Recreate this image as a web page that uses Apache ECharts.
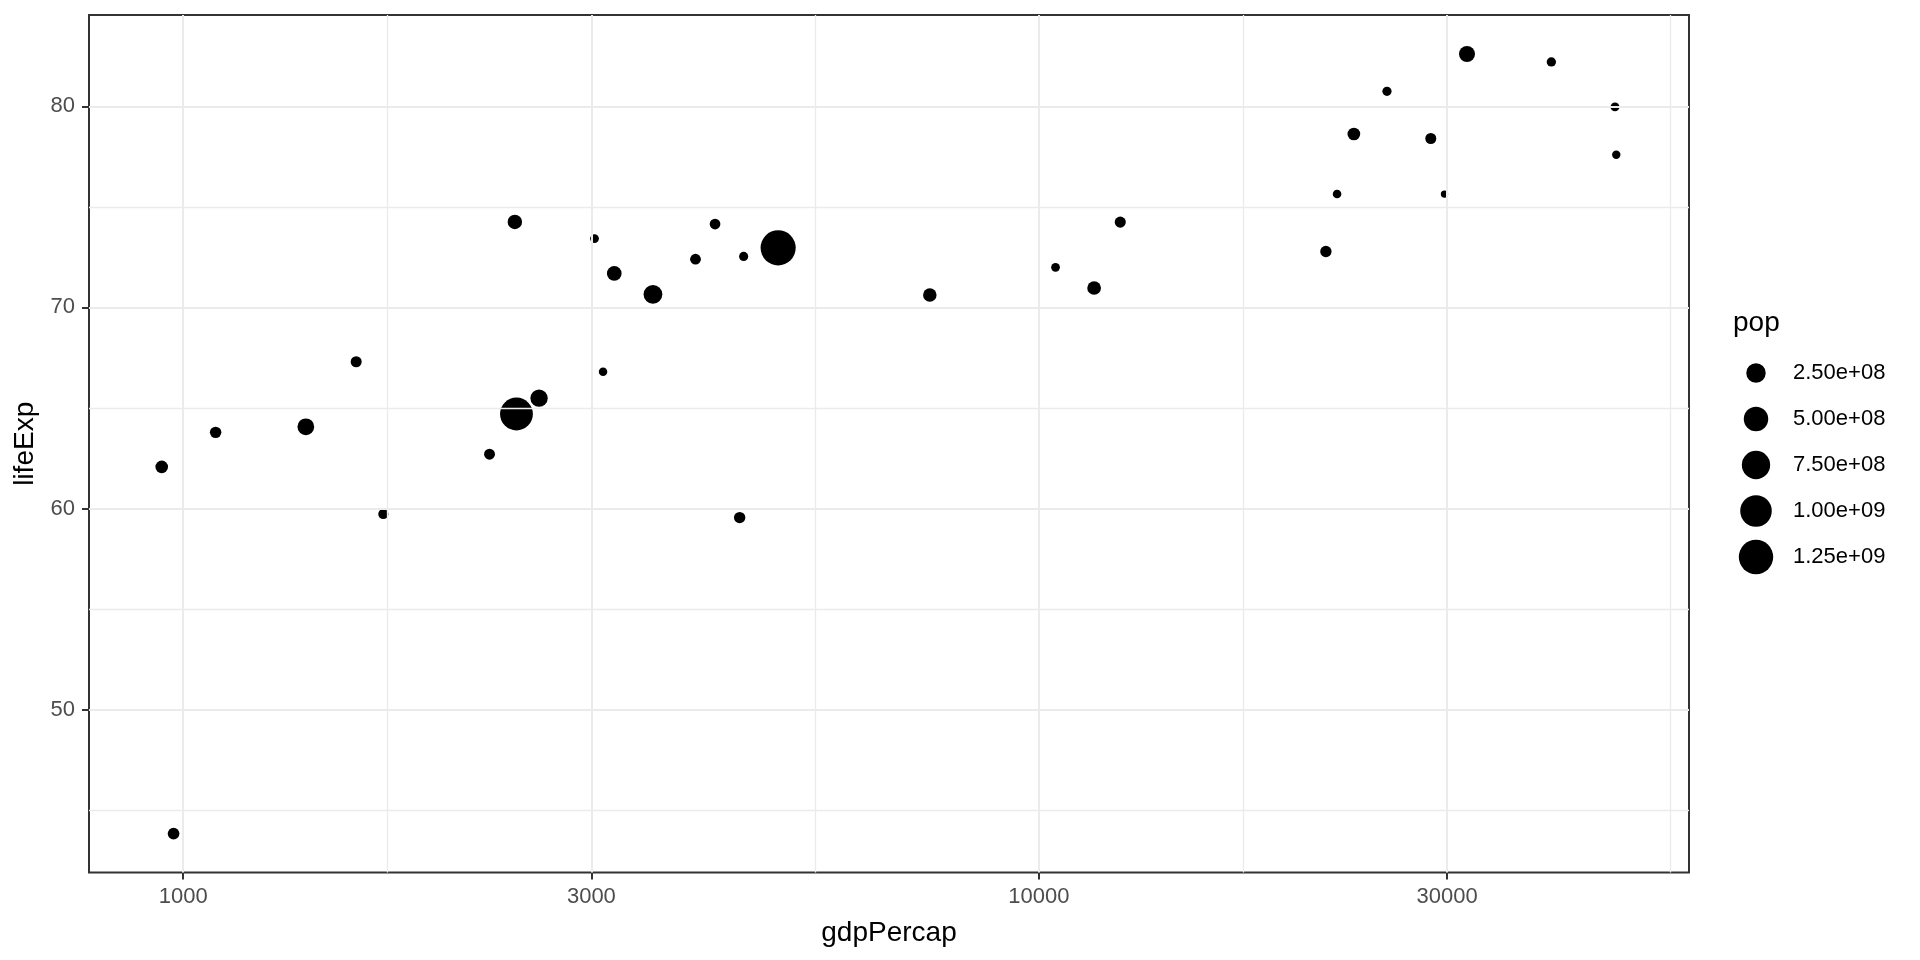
<!DOCTYPE html>
<html>
<head>
<meta charset="utf-8">
<script src="https://cdn.jsdelivr.net/npm/echarts@6/dist/echarts.min.js"></script>
<style>html,body{margin:0;padding:0;background:#fff;}#chart{width:1920px;height:960px;}</style>
</head>
<body>
<div id="chart"></div>
<script>
const countries = ['Afghanistan','Bahrain','Bangladesh','Cambodia','China','Hong Kong, China','India','Indonesia','Iran','Iraq','Israel','Japan','Jordan','Korea, Dem. Rep.','Korea, Rep.','Kuwait','Lebanon','Malaysia','Mongolia','Myanmar','Nepal','Oman','Pakistan','Philippines','Saudi Arabia','Singapore','Sri Lanka','Syria','Taiwan','Thailand','Vietnam','West Bank and Gaza','Yemen, Rep.'];
const gdpPercap = [974.58,29796.05,1391.25,1713.78,4959.11,39724.98,2452.21,3540.65,11605.71,4471.06,25523.28,31656.07,4519.46,1593.07,23348.14,47306.99,10461.06,12451.66,3095.77,944.00,1091.36,22316.19,2605.95,3190.48,21654.83,47143.18,3970.10,4184.55,28718.28,7458.40,2441.58,3025.35,2280.77];
const lifeExp = [43.828,75.635,64.062,59.723,72.961,82.208,64.698,70.650,70.964,59.545,80.745,82.603,72.535,67.297,78.623,77.588,71.993,74.241,66.803,62.069,63.785,75.640,65.483,71.688,72.777,79.972,72.396,74.143,78.400,70.616,74.249,73.422,62.698];
const pop = [31889923,708573,150448339,14131858,1318683096,6980412,1110396331,223547000,69453570,27499638,6426679,127467972,6053193,23301725,49044790,2505559,3921278,24821286,2874127,47761980,28901790,3204897,169270617,91077287,27601038,4553009,20378239,19314747,23174294,65068149,85262356,4018332,22211743];
const xMajorTicks = [1000, 3000, 10000, 30000];
const xMinorBreaks = [1732.05, 5477.23, 17320.51, 54772.26];
const yMajorTicks = [50, 60, 70, 80];
const yMinorBreaks = [45, 55, 65, 75];
const legendBreaks = [2.5e8, 5e8, 7.5e8, 1e9, 1.25e9];
const legendLabels = ['2.50e+08', '5.00e+08', '7.50e+08', '1.00e+09', '1.25e+09'];

const FONT = 'Liberation Sans, Arial, sans-serif';
const popMin = Math.min(...pop), popMax = Math.max(...pop);
function sizeOf(p) {
  const s = 1 + 5 * Math.sqrt(Math.max(0, (p - popMin) / (popMax - popMin)));
  return 1.95 * (2.845 * s + 0.945);
}
const lx = gdpPercap.map(v => Math.log10(v));
const lxMin = Math.min(...lx), lxMax = Math.max(...lx);
const xMin = Math.pow(10, lxMin - 0.05 * (lxMax - lxMin));
const xMax = Math.pow(10, lxMax + 0.05 * (lxMax - lxMin));
const yLo = Math.min(...lifeExp), yHi = Math.max(...lifeExp);
const yMin = yLo - 0.05 * (yHi - yLo), yMax = yHi + 0.05 * (yHi - yLo);

const points = gdpPercap.map((g, i) => ({ name: countries[i], value: [g, lifeExp[i], pop[i]] }));

const gridLines = [];
xMinorBreaks.forEach(v => gridLines.push({ xAxis: v, lineStyle: { width: 1.3 } }));
yMinorBreaks.forEach(v => gridLines.push({ yAxis: v, lineStyle: { width: 1.3 } }));
xMajorTicks.forEach(v => gridLines.push({ xAxis: v, lineStyle: { width: 2 } }));
yMajorTicks.forEach(v => gridLines.push({ yAxis: v, lineStyle: { width: 2 } }));

const legendGraphics = [{
  type: 'text', x: 1733, y: 323,
  style: { text: 'pop', font: '28px ' + FONT, fill: '#000', verticalAlign: 'middle', align: 'left' }
}];
legendBreaks.forEach((b, i) => {
  const cy = 373 + 46 * i;
  const r = sizeOf(b) / 2;
  legendGraphics.push({ type: 'circle', shape: { cx: 1756, cy: cy, r: r }, style: { fill: '#000' } });
  legendGraphics.push({ type: 'text', x: 1793, y: cy, style: { text: legendLabels[i], font: '22px ' + FONT, fill: '#000', verticalAlign: 'middle', align: 'left' } });
});

const chart = echarts.init(document.getElementById('chart'), null, { renderer: 'canvas' });
chart.setOption({
  animation: false,
  backgroundColor: '#fff',
  textStyle: { fontFamily: FONT },
  grid: { left: 89, top: 15, width: 1600, height: 857.6, containLabel: false, outerBoundsMode: 'none',
    show: true, borderColor: '#333', borderWidth: 2, backgroundColor: 'transparent' },
  xAxis: {
    type: 'log', logBase: 10, min: xMin, max: xMax,
    name: 'gdpPercap', nameLocation: 'middle', nameGap: 47,
    nameTextStyle: { fontSize: 28, color: '#000', fontFamily: FONT },
    axisLine: { show: false },
    axisTick: { show: true, length: 7, customValues: xMajorTicks, lineStyle: { color: '#333', width: 2 } },
    axisLabel: { customValues: xMajorTicks, fontSize: 22, color: '#4D4D4D', margin: 13, fontFamily: FONT, formatter: v => String(Math.round(v)) },
    splitLine: { show: false }, minorTick: { show: false }, minorSplitLine: { show: false }
  },
  yAxis: {
    type: 'value', min: yMin, max: yMax,
    name: 'lifeExp', nameLocation: 'middle', nameGap: 47, nameRotate: 90,
    nameTextStyle: { fontSize: 28, color: '#000', fontFamily: FONT },
    axisLine: { show: false },
    axisTick: { show: true, length: 7, customValues: yMajorTicks, lineStyle: { color: '#333', width: 2 } },
    axisLabel: { customValues: yMajorTicks, fontSize: 22, color: '#4D4D4D', margin: 14, fontFamily: FONT },
    splitLine: { show: false }
  },
  series: [
    {
      type: 'scatter', data: [], z: 1, silent: true,
      markLine: { silent: true, symbol: ['none', 'none'], label: { show: false }, animation: false,
        lineStyle: { color: '#EBEBEB', type: 'solid' }, emphasis: { disabled: true }, data: gridLines }
    },
    {
      type: 'scatter', z: 3, data: points,
      symbol: 'circle',
      symbolSize: v => sizeOf(v[2]),
      itemStyle: { color: '#000', opacity: 1 },
      emphasis: { disabled: true }
    }
  ],
  graphic: legendGraphics
});
</script>
</body>
</html>
